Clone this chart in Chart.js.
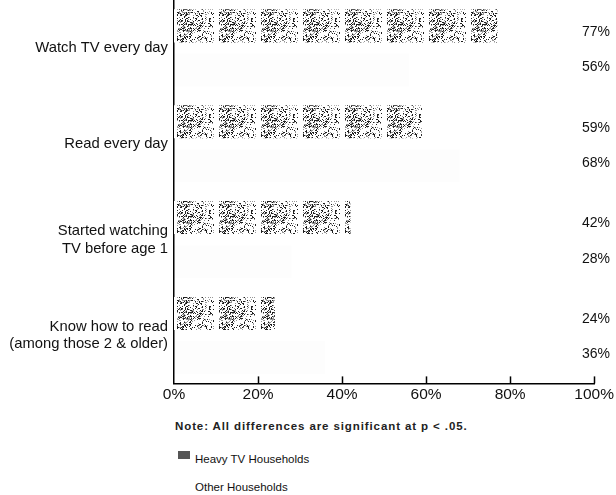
<!DOCTYPE html>
<html>
<head>
<meta charset="utf-8">
<script src="https://cdn.jsdelivr.net/npm/chart.js@4.4.1/dist/chart.umd.min.js"></script>
<style>
  body { margin: 0; background: #fff; font-family: "Liberation Sans", Arial, sans-serif; color: #111; }
  #wrap { position: relative; width: 616px; height: 495px; overflow: hidden; }
  #box { position: absolute; left: 0; top: 0; width: 616px; height: 406px; }
  .note { position: absolute; left: 175px; top: 420px; font-size: 11.5px; font-weight: bold; letter-spacing: 0.9px; color: #222; }
  .leg { position: absolute; left: 195px; font-size: 11.5px; }
  .sw { position: absolute; left: 178px; width: 12px; height: 8px; background: #555; }
</style>
</head>
<body>
<div id="wrap">
  <div id="box"><canvas id="chart"></canvas></div>
  <div class="note">Note: All differences are significant at p &lt; .05.</div>
  <div class="sw" style="top:451px"></div>
  <div class="leg" style="top:453px">Heavy TV Households</div>
  <div class="leg" style="top:481px">Other Households</div>
</div>
<script>
// categories and values
const categories = [
    ['Watch TV every day'],
    ['Read every day'],
    ['Started watching', 'TV before age 1'],
    ['Know how to read', '(among those 2 & older)']
];
const heavyTV = [77, 59, 42, 24];
const otherHouseholds = [56, 68, 28, 36];
const xTicks = [0, 20, 40, 60, 80, 100];

const FONT = '"Liberation Sans", Arial, sans-serif';

// grainy scanned look for the heavy TV bars (blocks with small gaps)
function hash(x, y) {
    let h = (x * 374761393 + y * 668265263) | 0;
    h = Math.imul(h ^ (h >>> 13), 1274126177);
    return ((h ^ (h >>> 16)) >>> 0) / 4294967295;
}
function makeSpeckle(density, shade) {
    const w = 42, hgt = 48, gap = 5;
    const c = document.createElement('canvas');
    c.width = w; c.height = hgt;
    const g = c.getContext('2d');
    const img = g.createImageData(w, hgt);
    for (let y = 0; y < hgt; y++) {
        for (let x = 0; x < w; x++) {
            let v = 255;
            if (x < w - gap) {
                const d = density * (1 - 0.6 * x / (w - gap)) * (0.7 + 0.6 * hash(y, 7));
                const r = hash(x, y);
                if (r < d) v = shade;
                else if (r < d * 1.6) v = 150;
            }
            const i = (y * w + x) * 4;
            img.data[i] = img.data[i + 1] = img.data[i + 2] = v;
            img.data[i + 3] = 255;
        }
    }
    g.putImageData(img, 0, 0);
    const p = g.createPattern(c, 'repeat');
    p.setTransform(new DOMMatrix().translate(177, 0));
    return p;
}
const heavyFill = makeSpeckle(0.28, 30);

const valueLabels = {
    id: 'valueLabels',
    afterDatasetsDraw(chart) {
        const ctx = chart.ctx;
        ctx.save();
        ctx.font = '14px ' + FONT;
        ctx.fillStyle = '#111';
        ctx.textAlign = 'right';
        ctx.textBaseline = 'middle';
        chart.data.datasets.forEach((ds, di) => {
            const meta = chart.getDatasetMeta(di);
            meta.data.forEach((bar, i) => {
                const nudge = di === 0 ? 6 : -3;
                ctx.fillText(ds.data[i] + '%', 610, bar.y + nudge);
            });
        });
        ctx.restore();
    }
};

// small tick marks pointing up from the x axis
const upTicks = {
    id: 'upTicks',
    afterDraw(chart) {
        const ctx = chart.ctx;
        const sx = chart.scales.x;
        const bottom = chart.chartArea.bottom;
        ctx.save();
        ctx.strokeStyle = '#000';
        ctx.lineWidth = 1.5;
        xTicks.forEach(t => {
            if (t === 0) return;
            const px = Math.round(sx.getPixelForValue(t)) + 0.5;
            ctx.beginPath();
            ctx.moveTo(px, bottom);
            ctx.lineTo(px, bottom - 7);
            ctx.stroke();
        });
        ctx.restore();
    }
};

const ctx = document.getElementById('chart').getContext('2d');
const chart = new Chart(ctx, {
    type: 'bar',
    data: {
        labels: categories,
        datasets: [
            {
                label: 'Heavy TV Households',
                data: heavyTV,
                backgroundColor: heavyFill,
                borderWidth: 0,
                categoryPercentage: 0.92,
                barPercentage: 0.75
            },
            {
                label: 'Other Households',
                data: otherHouseholds,
                backgroundColor: 'rgba(0,0,0,0.008)',
                borderWidth: 0,
                categoryPercentage: 0.92,
                barPercentage: 0.75
            }
        ]
    },
    options: {
        indexAxis: 'y',
        responsive: true,
        maintainAspectRatio: false,
        animation: false,
        layout: { padding: { left: 0, right: 19, top: 0, bottom: 0 } },
        plugins: {
            legend: { display: false },
            tooltip: { enabled: false }
        },
        scales: {
            x: {
                min: 0,
                max: 100,
                afterBuildTicks: s => { s.ticks = xTicks.map(v => ({ value: v })); },
                ticks: {
                    callback: v => v + '%',
                    color: '#111',
                    font: { family: FONT, size: 15.5 },
                    padding: 2,
                    maxRotation: 0
                },
                grid: { display: false, drawTicks: false },
                border: { display: true, color: '#000', width: 1.5 }
            },
            y: {
                afterFit: s => { s.width = 174; s.paddingTop = 0; s.paddingBottom = 0; },
                ticks: {
                    color: '#111',
                    font: { family: FONT, size: 14.8 },
                    padding: 6
                },
                grid: { display: false, drawTicks: false },
                border: { display: true, color: '#000', width: 1.5 }
            }
        }
    },
    plugins: [valueLabels, upTicks]
});
</script>
</body>
</html>
